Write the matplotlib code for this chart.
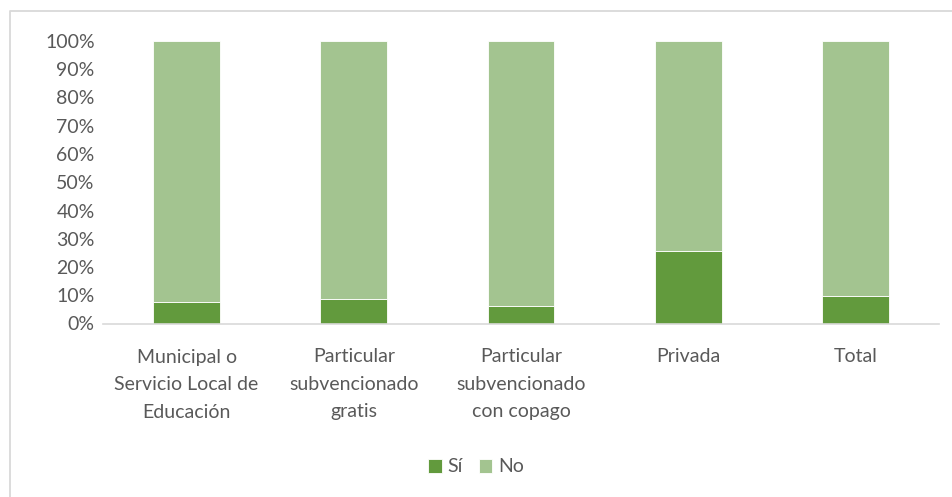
import numpy as np
import matplotlib.pyplot as plt
from matplotlib.lines import Line2D
from matplotlib.ticker import PercentFormatter

# Datos
categorias = ["Municipal o\nServicio Local de\nEducación",
              "Particular\nsubvencionado\ngratis",
              "Particular\nsubvencionado\ncon copago",
              "Privada",
              "Total"]
si = np.array([7.7, 8.6, 6.3, 25.8, 9.7]) / 100
no = 1 - si

verde_oscuro = "#629A3D"
verde_claro = "#A3C490"
gris_texto = "#595959"

plt.rcParams["font.family"] = ["Lato", "DejaVu Sans"]

fig = plt.figure(figsize=(9.52, 4.97), dpi=100)
ax = fig.add_axes([103/952, 1-323.5/497, (939-103)/952, (323.5-41)/497])

x = np.arange(len(categorias))
ax.bar(x, si, width=0.4, color=verde_oscuro, edgecolor="white", linewidth=0.6, label="Sí")
ax.bar(x, no, bottom=si, width=0.4, color=verde_claro, edgecolor="white", linewidth=0.6, label="No")

ax.set_xlim(-0.5, len(categorias) - 0.5)
ax.set_ylim(0, 1)
ax.set_yticks(np.arange(0, 1.01, 0.1))
ax.yaxis.set_major_formatter(PercentFormatter(1.0, decimals=0))
ax.set_xticks(x)
ax.set_xticklabels(categorias, linespacing=1.75)
ax.tick_params(axis="both", length=0, labelsize=14, colors=gris_texto)
ax.tick_params(axis="x", pad=18)
ax.tick_params(axis="y", pad=6)

for s in ["top", "right", "left"]:
    ax.spines[s].set_visible(False)
ax.spines["bottom"].set_color("#D9D9D9")
ax.spines["bottom"].set_linewidth(1.2)

leg = fig.legend(loc="center", bbox_to_anchor=(0.5, 1-467/497), ncol=2, frameon=False,
                 fontsize=14, handlelength=0.7, handleheight=0.7, handletextpad=0.3,
                 columnspacing=0.8)
for t in leg.get_texts():
    t.set_color(gris_texto)

# marco del grafico (solo se ven borde izquierdo y superior)
fig.add_artist(Line2D([9.5/952, 9.5/952, 1], [0, 1-11/497, 1-11/497],
                      transform=fig.transFigure, color="#D9D9D9", linewidth=1.3))

fig.savefig("out.png", dpi=100, facecolor="white")
